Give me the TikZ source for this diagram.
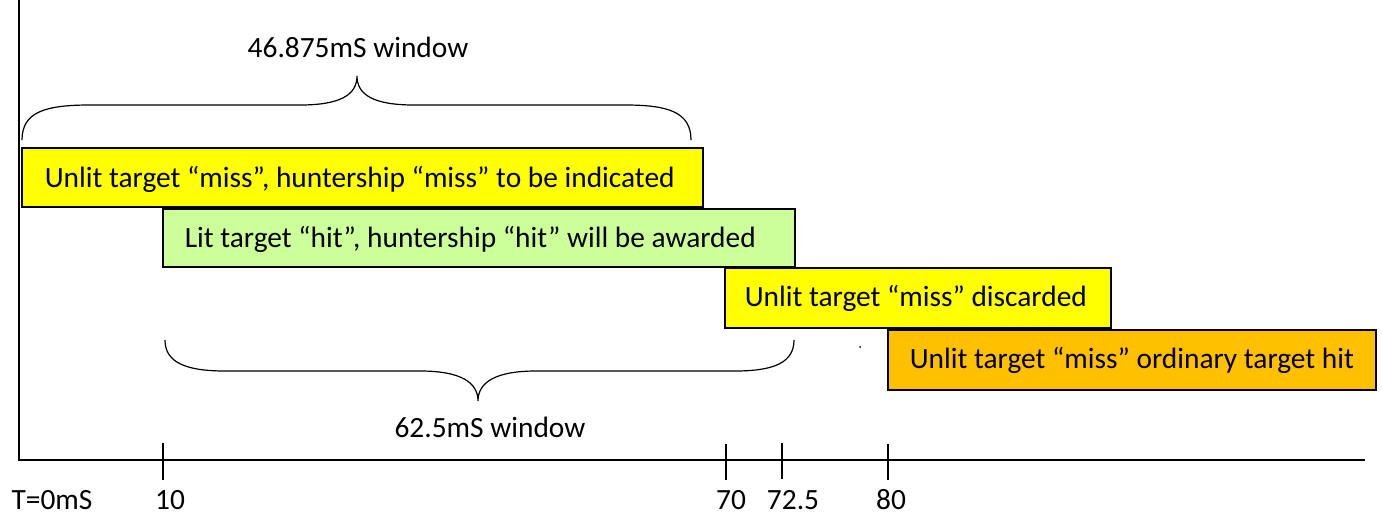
\documentclass[tikz,border=0pt]{standalone}
\usepackage{fontspec}
\setmainfont{Carlito}
\definecolor{boxyellow}{HTML}{FFFF00}
\definecolor{boxgreen}{HTML}{CCFF99}
\definecolor{boxorange}{HTML}{FFC000}
\begin{document}
\begin{tikzpicture}[x=0.5pt, y=-0.5pt,
  every node/.style={font=\fontsize{14.7}{17}\selectfont},
  bar/.style={draw=black, line width=0.6pt, rectangle, inner sep=0pt},
  bartext/.style={anchor=west, inner sep=0pt},
  axis/.style={line width=0.8pt},
  tick/.style={line width=0.6pt},
  brace/.style={line width=0.6pt},
  lbl/.style={inner sep=0pt}]
\useasboundingbox (0,0) rectangle (1382,515);

% axes
\coordinate (top) at (19,0);
\coordinate (origin) at (19,460);
\coordinate (xend) at (1365,460);
\draw[axis] (top) -- (origin) -- (xend);

% ticks
\foreach \n/\x/\a/\b in {t10/163/443/480, t70/726/444/480, t725/782/443/479, t80/888/444/480}{
  \coordinate (\n a) at (\x,\a);
  \coordinate (\n b) at (\x,\b);
  \draw[tick] (\n a) -- (\n b);
}

% tick labels
\node[lbl] (l0)   at (52,500)  {T=0mS};
\node[lbl] (l10)  at (170,500) {10};
\node[lbl] (l70)  at (731,500) {70};
\node[lbl] (l725) at (793,500) {72.5};
\node[lbl] (l80)  at (891,500) {80};

% timeline bars
\node[bar, fill=boxyellow, minimum width=340.5pt, minimum height=29.5pt] (miss1) at (362.5,177.5) {};
\node[bartext] (miss1t) at ([xshift=11.5pt,yshift=-0.8pt]miss1.west) {Unlit target “miss”, huntership “miss” to be indicated};
\node[bar, fill=boxgreen, minimum width=316pt, minimum height=29pt] (hit) at (479,238) {};
\node[bartext] (hitt) at ([xshift=11pt,yshift=-0.5pt]hit.west) {Lit target “hit”, huntership “hit” will be awarded};
\node[bar, fill=boxyellow, minimum width=193pt, minimum height=30pt] (discard) at (918,298) {};
\node[bartext] (discardt) at ([xshift=10pt,yshift=0pt]discard.west) {Unlit target “miss” discarded};
\node[bar, fill=boxorange, minimum width=244pt, minimum height=30pt] (ordinary) at (1132,360) {};
\node[bartext] (ordinaryt) at ([xshift=11pt,yshift=0pt]ordinary.west) {Unlit target “miss” ordinary target hit};

% stray dot
\fill (860,347) circle (1);

% upper brace
\draw[brace] (22,140) .. controls (22,112) and (45,105) .. (90,105) -- (300,105)
  .. controls (340,105) and (357,95) .. (357,76)
  .. controls (357,95) and (374,105) .. (414,105) -- (625,105)
  .. controls (668,105) and (691,112) .. (691,140);
\node[lbl] (w1) at (358,47) {46.875mS window};

% lower brace
\draw[brace] (165,340) .. controls (165,362) and (185,371) .. (225,371) -- (420,371)
  .. controls (460,371) and (478,382) .. (478,401)
  .. controls (478,382) and (496,371) .. (536,371) -- (735,371)
  .. controls (775,371) and (794,362) .. (794,340);
\node[lbl] (w2) at (490,427) {62.5mS window};
\end{tikzpicture}
\end{document}
